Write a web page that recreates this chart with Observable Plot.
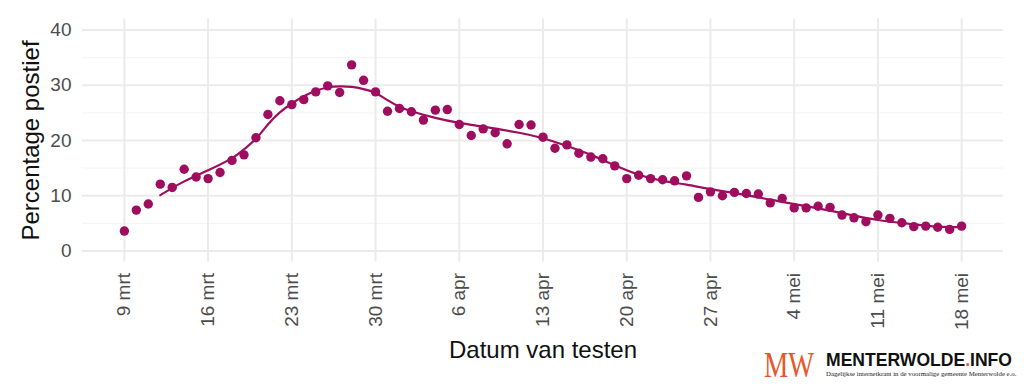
<!DOCTYPE html>
<html><head><meta charset="utf-8">
<script src="https://cdn.jsdelivr.net/npm/d3@7"></script>
<script src="https://cdn.jsdelivr.net/npm/@observablehq/plot@0.6"></script>
<style>
html,body{margin:0;padding:0;background:#fff;}
#wrap{position:relative;width:1024px;height:389px;overflow:hidden;}
#logo{position:absolute;left:0;top:0;}
</style></head><body><div id="wrap"></div>
<script>
// Daily percentage positive, starting 9 March 2020 (one value per day)
const pct = [3.6, 7.4, 8.5, 12.1, 11.5, 14.8, 13.4, 13.1, 14.2, 16.4,
  17.4, 20.5, 24.7, 27.2, 26.5, 27.4, 28.8, 29.9, 28.7, 33.7,
  30.9, 28.8, 25.3, 25.8, 25.2, 23.7, 25.5, 25.6, 22.9, 20.9,
  22.1, 21.4, 19.4, 22.9, 22.8, 20.6, 18.6, 19.2, 17.7, 17.0,
  16.7, 15.4, 13.1, 13.7, 13.1, 12.9, 12.7, 13.6, 9.7, 10.7,
  10.0, 10.6, 10.4, 10.3, 8.7, 9.5, 7.8, 7.8, 8.1, 7.9,
  6.5, 6.0, 5.3, 6.5, 5.9, 5.1, 4.4, 4.5, 4.3, 3.9, 4.5];
// Smoothed trend line (day offset from 9 March, value)
const smoothDay = [3, 5, 7, 9, 10, 11, 12, 13, 14, 15, 16, 17, 18, 19, 20, 21, 22, 23, 24, 26, 28, 30, 33, 35, 37, 39, 41, 43, 45, 47, 49, 52, 55, 58, 61, 63, 66, 68, 70];
const smoothPct = [10.1, 12.6, 14.6, 16.8, 18.4, 20.3, 22.9, 25.1, 26.7, 28.0, 29.0, 29.6, 29.8, 29.7, 29.3, 28.6, 27.3, 26.1, 25.3, 24.1, 23.2, 22.5, 21.4, 20.4, 19.0, 17.4, 15.5, 13.8, 12.7, 12.0, 11.2, 10.1, 8.9, 7.7, 6.4, 5.6, 4.8, 4.4, 4.3];
const tickDay = [0, 7, 14, 21, 28, 35, 42, 49, 56, 63, 70];
const tickLabels = ["9 mrt", "16 mrt", "23 mrt", "30 mrt", "6 apr", "13 apr", "20 apr", "27 apr", "4 mei", "11 mei", "18 mei"];
const yMajor = [0, 10, 20, 30, 40];
const yMinor = [5, 15, 25, 35];

const day0 = Date.UTC(2020, 2, 9);
const dateOf = d => new Date(day0 + d * 864e5);
const points = pct.map((v, i) => ({date: dateOf(i), v}));
const smooth = smoothDay.map((d, i) => ({date: dateOf(d), v: smoothPct[i]}));
const ticks = tickDay.map(dateOf);
const labelByTime = new Map(ticks.map((t, i) => [+t, tickLabels[i]]));
const color = "#9E0D5E";

const chart = Plot.plot({
  width: 1024, height: 389,
  marginLeft: 82, marginRight: 21, marginTop: 18.5, marginBottom: 127.5,
  style: {fontFamily: "'Liberation Sans', Arial, sans-serif", background: "#fff", overflow: "visible"},
  x: {type: "utc", domain: [dateOf(-3.5), dateOf(73.5)]},
  y: {domain: [-2, 42]},
  marks: [
    Plot.ruleY(yMinor, {stroke: "#f3f3f3", strokeWidth: 1}),
    Plot.ruleY(yMajor, {stroke: "#ebebeb", strokeWidth: 2}),
    Plot.ruleX(ticks, {stroke: "#ebebeb", strokeWidth: 2}),
    Plot.axisY({ticks: yMajor, tickSize: 0, tickPadding: 11, fontSize: 19, color: "#4d4d4d", label: null}),
    Plot.axisX({ticks, tickFormat: d => labelByTime.get(+d), tickRotate: -90, tickSize: 0, tickPadding: 11, fontSize: 19, color: "#4d4d4d", label: null}),
    Plot.line(smooth, {x: "date", y: "v", stroke: color, strokeWidth: 2.2, curve: "natural"}),
    Plot.dot(points, {x: "date", y: "v", r: 4.7, fill: color}),
    Plot.text(["Percentage postief"], {frameAnchor: "left", dx: -51, rotate: -90, fontSize: 24, fill: "#111", lineAnchor: "middle", textAnchor: "middle"}),
    Plot.text(["Datum van testen"], {frameAnchor: "bottom", dy: 96, fontSize: 24, fill: "#111", lineAnchor: "bottom", textAnchor: "middle"})
  ]
});
const wrap = document.getElementById("wrap");
wrap.appendChild(chart);

// Publisher logo (bottom right)
const ns = "http://www.w3.org/2000/svg";
const logo = document.createElementNS(ns, "svg");
logo.setAttribute("id", "logo");
logo.setAttribute("width", "1024");
logo.setAttribute("height", "389");
logo.innerHTML = `
  <text x="789" y="377" text-anchor="middle" font-family="'Liberation Serif', serif" font-size="36" fill="#E8562A" textLength="50" lengthAdjust="spacingAndGlyphs">MW</text>
  <text x="826" y="366" font-family="'Liberation Sans', Arial, sans-serif" font-weight="bold" font-size="17.5" fill="#111" textLength="186" lengthAdjust="spacingAndGlyphs">MENTERWOLDE<tspan fill="#E8562A">.</tspan>INFO</text>
  <text x="826" y="376" font-family="'Liberation Serif', serif" font-size="6.8" fill="#222">Dagelijkse internetkrant in de voormalige gemeente Menterwolde e.o.</text>`;
wrap.appendChild(logo);
</script>
</body></html>
